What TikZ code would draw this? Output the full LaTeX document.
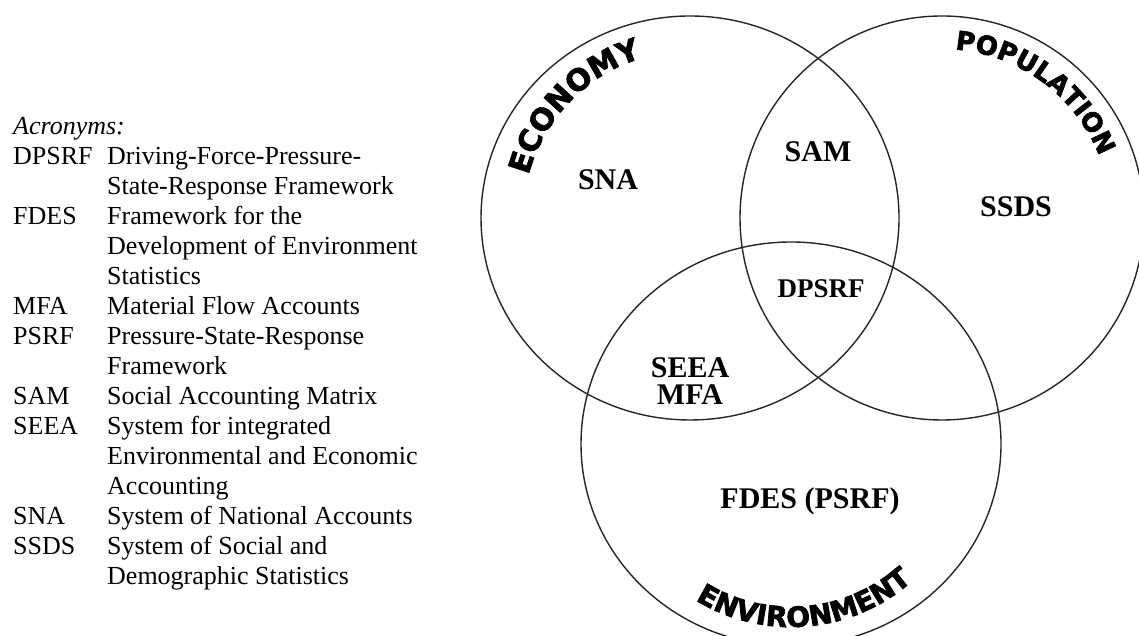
\documentclass[tikz,border=0pt]{standalone}
\usepackage{fontspec}
\setmainfont{Liberation Serif}
\newfontfamily\artfont{DejaVu Sans}[BoldFeatures={FakeBold=2.5}]
\usetikzlibrary{decorations.text,shapes.geometric,calc}
\begin{document}
\begin{tikzpicture}[x=1pt,y=1pt,
  venn/.style={draw=black!85, line width=1.4pt, ellipse, inner sep=0pt, outer sep=0pt},
  lbl/.style={font=\fontsize{30}{30}\selectfont\bfseries, inner sep=0pt, anchor=base},
  legendtext/.style={font=\fontsize{26}{30}\selectfont, inner sep=0pt, anchor=base west, align=left}]
\useasboundingbox (0,0) rectangle (1139,636);
\begin{scope}
\clip (0,0) rectangle (1139,636);
\node[venn, minimum width=418pt, minimum height=404pt] (econ) at (690,418) {};
\node[venn, minimum width=404pt, minimum height=404pt] (pop) at (942,418) {};
\node[venn, minimum width=420pt, minimum height=404pt] (env) at (791,192) {};
\end{scope}
% curved titles
\path[decorate, decoration={text along path, text align=center,
  text={|\artfont\bfseries\fontsize{30}{30}\selectfont|ECONOMY}}]
  ($(econ.center)+(181:167)$) arc[start angle=181, end angle=91, radius=167];
\path[decorate, decoration={text along path, text align=center,
  text={|\artfont\bfseries\fontsize{26}{26}\selectfont|POPULATION}}]
  ($(pop.center)+(103.5:169)$) arc[start angle=103.5, end angle=3.5, radius=169];
\path[decorate, decoration={text along path, text align=center,
  text={|\artfont\bfseries\fontsize{28}{28}\selectfont|ENVIRONMENT}}]
  ($(env.center)+(225:183)$) arc[start angle=225, end angle=325, radius=183];
% region labels
\node[lbl] (sna) at (608,446) {SNA};
\node[lbl] (sam) at (818,474) {SAM};
\node[lbl] (ssds) at (1016,419) {SSDS};
\node[lbl, font=\fontsize{27}{27}\selectfont\bfseries] (dpsrf) at (821,338) {DPSRF};
\node[lbl] (seea) at (690,258) {SEEA};
\node[lbl] (mfa) at (690,231) {MFA};
\node[lbl] (fdes) at (810,127) {FDES (PSRF)};
% legend
\node[legendtext] (legend) at (13,501) {%
\begin{tabular}[t]{@{}p{94pt}@{}l@{}}
\multicolumn{2}{@{}l@{}}{\itshape Acronyms:}\\
DPSRF & Driving-Force-Pressure-\\
 & State-Response Framework\\
FDES & Framework for the\\
 & Development of Environment\\
 & Statistics\\
MFA & Material Flow Accounts\\
PSRF & Pressure-State-Response\\
 & Framework\\
SAM & Social Accounting Matrix\\
SEEA & System for integrated\\
 & Environmental and Economic\\
 & Accounting\\
SNA & System of National Accounts\\
SSDS & System of Social and\\
 & Demographic Statistics
\end{tabular}};
\end{tikzpicture}
\end{document}
